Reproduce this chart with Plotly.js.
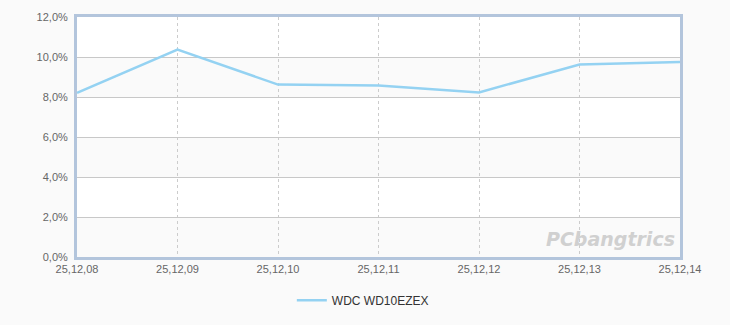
<!DOCTYPE html>
<html>
<head>
<meta charset="utf-8">
<script src="https://cdn.plot.ly/plotly-3.0.1.min.js"></script>
<style>
html,body{margin:0;padding:0;background:#fafafa;}
#chart{width:730px;height:325px;}
</style>
</head>
<body>
<div id="chart"></div>
<script>
var categories = ["25,12,08","25,12,09","25,12,10","25,12,11","25,12,12","25,12,13","25,12,14"];
var seriesName = "WDC WD10EZEX";
var seriesValues = [8.21, 10.37, 8.62, 8.57, 8.23, 9.62, 9.75];
var yTickVals = [0, 2, 4, 6, 8, 10, 12];
var yTickText = ["0,0%", "2,0%", "4,0%", "6,0%", "8,0%", "10,0%", "12,0%"];
var bandRanges = [[0, 2], [4, 6], [8, 10]];

var shapes = bandRanges.map(function (b) {
  return {type: "rect", xref: "paper", yref: "y", x0: 0, x1: 1, y0: b[0], y1: b[1],
          fillcolor: "#fafafa", line: {width: 0}, layer: "below"};
});

var trace = {
  x: categories, y: seriesValues, name: seriesName,
  type: "scatter", mode: "lines",
  line: {color: "#94d2f2", width: 2.5}
};

var layout = {
  width: 730, height: 325,
  margin: {l: 77, r: 50, t: 17, b: 67},
  paper_bgcolor: "#fafafa",
  plot_bgcolor: "#ffffff",
  font: {family: "Liberation Sans, Arial, sans-serif", size: 11, color: "#666"},
  showlegend: true,
  legend: {orientation: "h", x: 0.474, xanchor: "center", y: -0.175, yanchor: "middle",
           font: {size: 12, color: "#333"}, bgcolor: "rgba(0,0,0,0)"},
  xaxis: {type: "category", range: [0, categories.length - 1],
          showgrid: true, gridcolor: "#cccccc", griddash: "3px,3px", gridwidth: 1,
          showline: true, linecolor: "#b3c5dc", linewidth: 3, mirror: true,
          ticks: "", tickfont: {size: 11, color: "#666"}, zeroline: false, fixedrange: true},
  yaxis: {range: [0, 12], tickvals: yTickVals, ticktext: yTickText,
          showgrid: true, gridcolor: "#c8c8c8", gridwidth: 1,
          showline: true, linecolor: "#b3c5dc", linewidth: 3, mirror: true,
          ticks: "", ticklabelstandoff: 4, tickfont: {size: 11, color: "#666"}, zeroline: false},
  shapes: shapes,
  annotations: [{
    xref: "paper", yref: "paper", x: 0.995, y: 0.02, xanchor: "right", yanchor: "bottom",
    text: "<b><i>PCbangtrics</i></b>", showarrow: false,
    font: {family: "DejaVu Sans, sans-serif", size: 19, color: "#d0d0d0"}
  }]
};

Plotly.newPlot("chart", [trace], layout, {displayModeBar: false, staticPlot: true});
</script>
</body>
</html>
